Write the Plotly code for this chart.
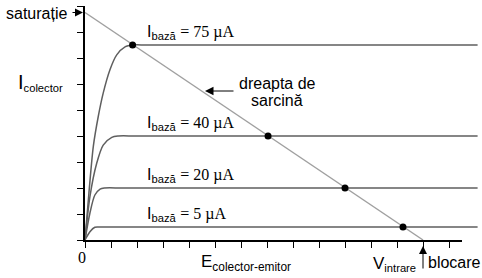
import plotly.graph_objects as go

# ---- data (units: ticks on the axes) ----
load_x = [0, 13]
load_y = [8.75, 0]

c75_x = [0, 0.15, 0.32, 0.51, 0.70, 0.96, 1.22, 1.54, 1.85, 2.4, 15.1]
c75_y = [0, 1.8, 3.6, 4.75, 5.65, 6.55, 7.12, 7.43, 7.5, 7.5, 7.5]
c40_x = [0, 0.19, 0.45, 0.70, 1.03, 1.28, 2.0, 15.1]
c40_y = [0, 1.67, 2.95, 3.65, 3.95, 4.0, 4.0, 4.0]
c20_x = [0, 0.19, 0.38, 0.58, 0.75, 1.5, 15.1]
c20_y = [0, 1.04, 1.73, 1.96, 2.0, 2.0, 2.0]
c5_x = [0, 0.19, 0.38, 0.55, 1.2, 15.1]
c5_y = [0, 0.32, 0.49, 0.5, 0.5, 0.5]

dot_x = [1.83, 7.04, 10.0, 12.23]
dot_y = [7.5, 4.0, 2.0, 0.5]

base_labels = ["75", "40", "20", "5"]
base_levels = [7.5, 4.0, 2.0, 0.5]

x_ticks = list(range(0, 15))
y_ticks = list(range(0, 10))

W, H = 482, 278
X0, Y0, U = 85, 240, 26  # pixel origin and pixels per unit

fig = go.Figure()

curve_color = "#5f5f5f"
for xs, ys in [(c75_x, c75_y), (c40_x, c40_y), (c20_x, c20_y), (c5_x, c5_y)]:
    fig.add_trace(go.Scatter(x=xs, y=ys, mode="lines",
                             line=dict(color=curve_color, width=1.5, shape="spline", smoothing=0.8),
                             hoverinfo="skip", showlegend=False))

fig.add_trace(go.Scatter(x=load_x, y=load_y, mode="lines",
                         line=dict(color="#a0a0a0", width=1.5),
                         hoverinfo="skip", showlegend=False))

fig.add_trace(go.Scatter(x=dot_x, y=dot_y, mode="markers",
                         marker=dict(color="black", size=7),
                         hoverinfo="skip", showlegend=False))

# dummy trace for the visible axes subplot
fig.add_trace(go.Scatter(x=[0], y=[0], xaxis="x2", yaxis="y2", mode="markers",
                         marker=dict(opacity=0), hoverinfo="skip", showlegend=False))

xr = [-X0 / U, (W - X0) / U]
yr = [-(H - Y0) / U, Y0 / U]

x_end = 14.5
y_end = 9.0

fig.update_layout(
    width=W, height=H,
    margin=dict(l=0, r=0, t=0, b=0),
    paper_bgcolor="white", plot_bgcolor="rgba(0,0,0,0)",
    xaxis=dict(range=xr, showgrid=False, zeroline=False, showticklabels=False,
               showline=False, ticks="", domain=[0, 1]),
    yaxis=dict(range=yr, showgrid=False, zeroline=False, showticklabels=False,
               showline=False, ticks="", domain=[0, 1]),
    xaxis2=dict(range=[0, x_end], domain=[X0 / W, (X0 + x_end * U) / W], anchor="y2",
                showgrid=False, zeroline=False, showticklabels=False,
                showline=True, linecolor="black", linewidth=2,
                ticks="outside", ticklen=6, tickwidth=1.3, tickcolor="black",
                tickmode="array", tickvals=x_ticks),
    yaxis2=dict(range=[0, y_end], domain=[(H - Y0) / H, (H - Y0 + y_end * U) / H], anchor="x2",
                showgrid=False, zeroline=False, showticklabels=False,
                showline=True, linecolor="black", linewidth=2,
                ticks="outside", ticklen=6, tickwidth=1.3, tickcolor="black",
                tickmode="array", tickvals=y_ticks),
    showlegend=False,
)

sans = "Liberation Sans, Arial, sans-serif"
serif = "Liberation Serif, Times New Roman, serif"

def px2x(px):
    return (px - X0) / U

def px2y(py):
    return (Y0 - py) / U

ann = []
# base current labels
for lab, lev in zip(base_labels, base_levels):
    ann.append(dict(x=px2x(145), y=lev, xanchor="left", yanchor="middle", yshift=13,
                    text="I<sub>bază</sub> <span style='font-family:Liberation Serif'>= %s µA</span>" % lab,
                    showarrow=False, font=dict(family=sans, size=16, color="black")))

ann.append(dict(x=px2x(68.5), y=px2y(13.5), xanchor="right", yanchor="middle",
                text="saturație", showarrow=False, font=dict(family=sans, size=16, color="black")))
ann.append(dict(x=px2x(83), y=load_y[0], ax=-12, ay=0, text="", showarrow=True,
                arrowhead=2, arrowsize=1.6, arrowwidth=1, arrowcolor="black", standoff=0))

ann.append(dict(x=px2x(16), y=px2y(82), xanchor="left", yanchor="middle",
                text="<span style='font-size:20px'>I</span><sub>colector</sub>",
                showarrow=False, font=dict(family=sans, size=16, color="black")))

ann.append(dict(x=px2x(277), y=px2y(83), xanchor="center", yanchor="middle",
                text="dreapta de", showarrow=False, font=dict(family=sans, size=16, color="black")))
ann.append(dict(x=px2x(277), y=px2y(100), xanchor="center", yanchor="middle",
                text="sarcină", showarrow=False, font=dict(family=sans, size=16, color="black")))
ann.append(dict(x=px2x(205), y=px2y(91), ax=30, ay=0, text="", showarrow=True,
                arrowhead=2, arrowsize=1.7, arrowwidth=1, arrowcolor="black", standoff=0))

ann.append(dict(x=px2x(81.5), y=px2y(257), xanchor="center", yanchor="middle",
                text="0", showarrow=False, font=dict(family=serif, size=16, color="black")))

ann.append(dict(x=px2x(199), y=px2y(263), xanchor="left", yanchor="middle",
                text="E<sub>colector-emitor</sub>",
                showarrow=False, font=dict(family=sans, size=17, color="black")))

ann.append(dict(x=px2x(371), y=px2y(264), xanchor="left", yanchor="middle",
                text="<span style='font-size:17px'>V</span><sub>intrare</sub>",
                showarrow=False, font=dict(family=sans, size=16, color="black")))

ann.append(dict(x=load_x[1], y=px2y(246), ax=0, ay=24, text="", showarrow=True,
                arrowhead=2, arrowsize=1.6, arrowwidth=1, arrowcolor="black", standoff=0))
ann.append(dict(x=px2x(426), y=px2y(262), xanchor="left", yanchor="middle",
                text="blocare", showarrow=False, font=dict(family=sans, size=16, color="black")))

fig.update_layout(annotations=ann)

fig.write_html("out.html")
